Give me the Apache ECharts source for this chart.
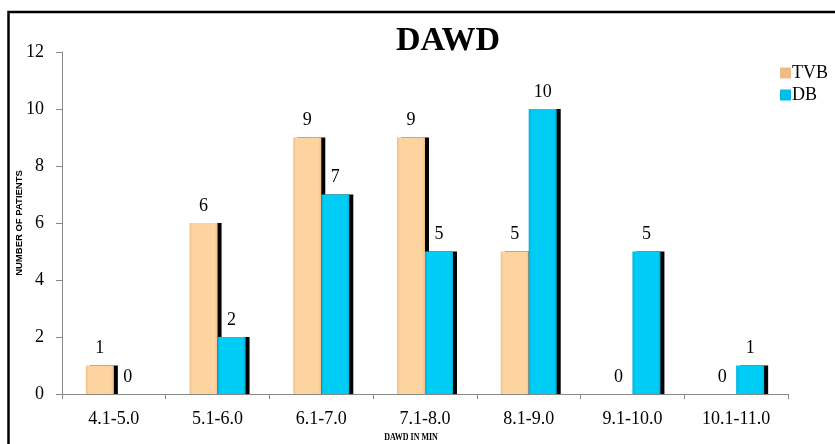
<!DOCTYPE html>
<html><head><meta charset="utf-8">
<script src="https://cdn.jsdelivr.net/npm/echarts@6/dist/echarts.min.js"></script>
<style>html,body{margin:0;padding:0;background:#fff}#c{width:835px;height:444px}</style>
</head><body><div id="c"></div>
<script>
const categories = ['4.1-5.0','5.1-6.0','6.1-7.0','7.1-8.0','8.1-9.0','9.1-10.0','10.1-11.0'];
const tvb = [1,6,9,9,5,0,0];
const db = [0,2,7,5,10,5,1];
const yTicks = [0,2,4,6,8,10,12];

const chart = echarts.init(document.getElementById('c'));
function grad(edge, mid){
  return new echarts.graphic.LinearGradient(0,0,1,0,[
    {offset:0,color:edge},{offset:0.1,color:mid},{offset:0.9,color:mid},{offset:1,color:edge}]);
}
const serif = '"Liberation Serif","Times New Roman",serif';
const lbl = {show:true,position:'top',distance:8,fontFamily:serif,fontSize:18,color:'#000'};
function items(arr){
  return arr.map(v => v === 0
    ? {value:v, itemStyle:{shadowColor:'rgba(0,0,0,0)'}}
    : {value:v});
}
chart.setOption({
  animation:false,
  title:{text:'DAWD',left:443,top:19,textAlign:'center',
    textStyle:{fontFamily:serif,fontWeight:'bold',fontSize:34,color:'#000'}},
  legend:{orient:'vertical',right:2,top:59,itemWidth:11,itemHeight:11,itemGap:4,
    textStyle:{fontFamily:serif,fontSize:18,color:'#000',padding:[0,0,0,-4]},
    data:[{name:'TVB',icon:'rect',itemStyle:{color:'#EDBB86',shadowBlur:0,shadowOffsetX:0,shadowOffsetY:0}},
          {name:'DB',icon:'rect',itemStyle:{color:'#00BCE8',shadowBlur:0,shadowOffsetX:0,shadowOffsetY:0}}]},
  graphic:[
    {type:'rect',shape:{x:8.5,y:12,width:900,height:500},style:{fill:'none',stroke:'#000',lineWidth:2.5},silent:true,z:-1},
    {type:'text',x:411,y:437,scaleX:0.76,
      style:{text:'DAWD IN MIN',fontFamily:serif,fontWeight:'bold',fontSize:10.5,fill:'#000',align:'center',verticalAlign:'middle'}}
  ],
  grid:{left:62,right:47,top:52,bottom:50,containLabel:false,outerBoundsMode:'none'},
  xAxis:{type:'category',data:categories,
    axisLine:{lineStyle:{color:'#888',width:1}},
    axisTick:{show:true,length:5,lineStyle:{color:'#888'}},
    axisLabel:{fontFamily:serif,fontSize:18,color:'#000',margin:16}},
  yAxis:{type:'value',min:0,max:12,interval:2,
    name:'NUMBER OF PATIENTS',nameLocation:'middle',nameGap:38,nameMoveOverlap:false,
    nameTextStyle:{fontFamily:'"Liberation Sans",Arial,sans-serif',fontWeight:'bold',fontSize:9.5,color:'#000'},
    axisLine:{show:true,lineStyle:{color:'#888',width:1}},
    axisTick:{show:true,length:6,lineStyle:{color:'#888'}},
    splitLine:{show:false},
    axisLabel:{fontFamily:serif,fontSize:18,color:'#000',margin:18,
      formatter:v=>yTicks.includes(v)?String(v):''}},
  series:[
    {name:'TVB',type:'bar',data:items(tvb),barWidth:28,barGap:'0%',
      itemStyle:{color:grad('#F0BF8A','#FDD39F'),shadowColor:'#000',shadowBlur:0,shadowOffsetX:4,shadowOffsetY:0},label:lbl},
    {name:'DB',type:'bar',data:items(db),barWidth:28,
      itemStyle:{color:grad('#00B0DA','#00CDF5'),shadowColor:'#000',shadowBlur:0,shadowOffsetX:4,shadowOffsetY:0},label:lbl}
  ]
});
</script></body></html>
